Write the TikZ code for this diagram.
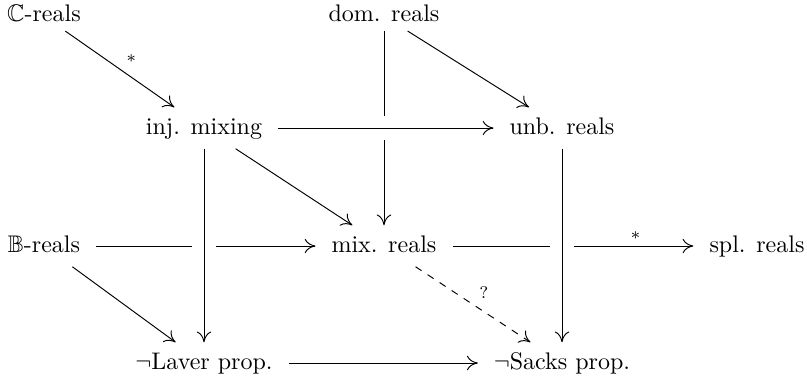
\documentclass[tikz,border=0pt]{standalone}
\usepackage{amssymb}
\usetikzlibrary{arrows.meta}
\begin{document}
\begin{tikzpicture}[x=0.416667pt,y=-0.416667pt,
  cell/.style={inner xsep=0.65em, inner ysep=0.4em, anchor=base, text height=6.94pt, text depth=1.94pt},
  toprow/.style={cell, text height=4pt, text depth=0pt},
  arr/.style={-{Computer Modern Rightarrow[length=4.5pt,width=6pt]}, line width=0.4pt},
  lbl/.style={font=\scriptsize, inner sep=2.5pt},
  over/.style={preaction={draw=white, line width=9.6pt, -}},
]
\useasboundingbox (0,0) rectangle (807,379);
% nodes
\node[toprow] (C)   at (44,21)   {$\mathbb{C}$-reals};
\node[toprow] (dom) at (384,21)  {dom. reals};
\node[cell]   (inj) at (204,134) {inj. mixing};
\node[cell]   (unb) at (562,134) {unb. reals};
\node[cell]   (B)   at (44,252)  {$\mathbb{B}$-reals};
\node[cell]   (mix) at (384,252) {mix. reals};
\node[cell]   (spl) at (757,252) {spl. reals};
\node[cell]   (lav) at (204,369) {$\neg$Laver prop.};
\node[cell]   (sac) at (562,369) {$\neg$Sacks prop.};
% lines that pass under others
\draw[arr] (dom) -- (mix);
\draw[arr] (B) -- (mix);
\draw[arr] (mix) -- node[lbl, pos=0.76, above] {$*$} (spl);
% lines that cross over
\draw[arr, over] (inj) -- (unb);
\draw[arr, over] (inj) -- (lav);
\draw[arr, over] (unb) -- (sac);
% the rest
\draw[arr] (C) -- node[lbl, midway, above right] {$*$} (inj);
\draw[arr] (dom) -- (unb);
\draw[arr] (inj) -- (mix);
\draw[arr] (B) -- (lav);
\draw[arr, dashed] (mix) -- node[lbl, midway, above right] {?} (sac);
\draw[arr] (lav) -- (sac);
\end{tikzpicture}
\end{document}
